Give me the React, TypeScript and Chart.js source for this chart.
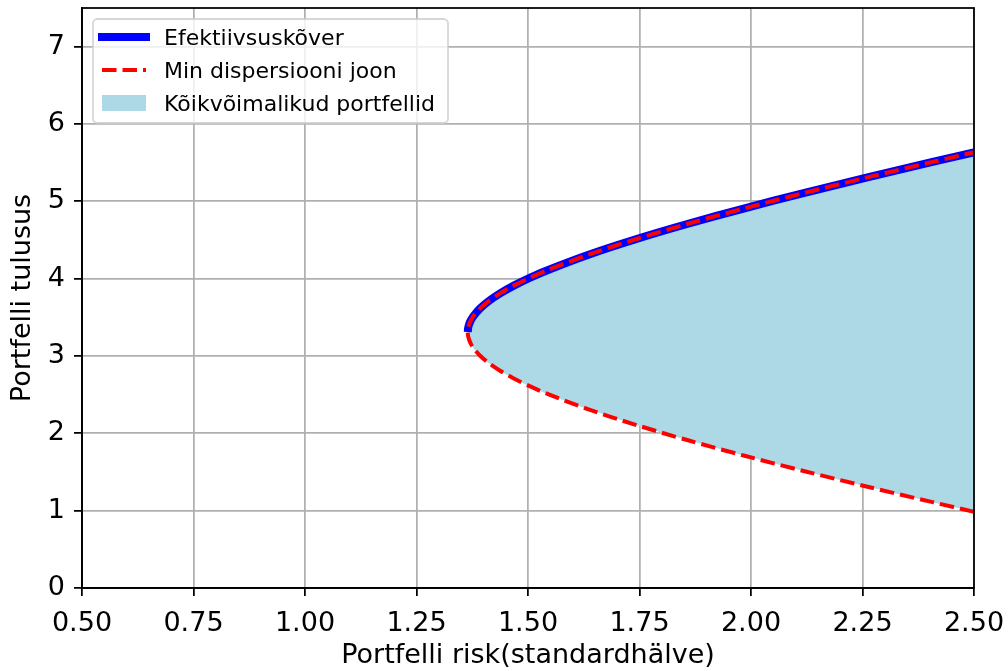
import React, { useEffect, useRef } from "react";
import { Chart, registerables } from "chart.js";

Chart.register(...registerables);

// Tick values
const xTicks = [0.5, 0.75, 1.0, 1.25, 1.5, 1.75, 2.0, 2.25, 2.5];
const yTicks = [0, 1, 2, 3, 4, 5, 6, 7];

// Efficient frontier (upper branch)
const upperRisk = [1.365, 1.3657, 1.368, 1.3717, 1.3768, 1.3915, 1.4118, 1.4374, 1.4682, 1.5037, 1.5437, 1.6357, 1.7415, 1.8588, 1.9856, 2.1201, 2.261, 2.4071, 2.5];
const upperReturn = [3.31, 3.36, 3.41, 3.46, 3.51, 3.61, 3.71, 3.81, 3.91, 4.01, 4.11, 4.31, 4.51, 4.71, 4.91, 5.11, 5.31, 5.51, 5.634];

// Lower branch of the minimum variance line
const lowerRisk = [1.365, 1.3657, 1.368, 1.3717, 1.3768, 1.3915, 1.4118, 1.4374, 1.4682, 1.5037, 1.5437, 1.6357, 1.7415, 1.8588, 1.9856, 2.1201, 2.261, 2.4071, 2.5];
const lowerReturn = [3.31, 3.26, 3.21, 3.16, 3.11, 3.01, 2.91, 2.81, 2.71, 2.61, 2.51, 2.31, 2.11, 1.91, 1.71, 1.51, 1.31, 1.11, 0.986];

const legendLabels = ["Efektiivsuskõver", "Min dispersiooni joon", "Kõikvõimalikud portfellid"];
const xTitle = "Portfelli risk(standardhälve)";
const yTitle = "Portfelli tulusus";

const BLUE = "#0000ff";
const RED = "#ff0000";
const LIGHTBLUE = "#add8e6";
const FONT = '"DejaVu Sans", "Liberation Sans", sans-serif';

const upperPts = upperRisk.map((x, i) => ({ x, y: upperReturn[i] }));
const lowerPts = lowerRisk.map((x, i) => ({ x, y: lowerReturn[i] }));
const fullCurve = [...lowerPts.slice().reverse(), ...upperPts.slice(1)];

const framePlugin = {
  id: "frame",
  afterDatasetsDraw(chart: any) {
    const { ctx, chartArea } = chart;
    ctx.save();
    ctx.strokeStyle = "#000";
    ctx.lineWidth = 1.76;
    ctx.strokeRect(chartArea.left, chartArea.top, chartArea.right - chartArea.left, chartArea.bottom - chartArea.top);
    ctx.restore();
  },
};

const legendPlugin = {
  id: "mplLegend",
  afterDraw(chart: any) {
    const { ctx, chartArea } = chart;
    const bx = chartArea.left + 11;
    const by = chartArea.top + 11;
    const bw = 355;
    const bh = 104;
    const r = 4.4;
    ctx.save();
    ctx.beginPath();
    ctx.moveTo(bx + r, by);
    ctx.lineTo(bx + bw - r, by);
    ctx.arcTo(bx + bw, by, bx + bw, by + r, r);
    ctx.lineTo(bx + bw, by + bh - r);
    ctx.arcTo(bx + bw, by + bh, bx + bw - r, by + bh, r);
    ctx.lineTo(bx + r, by + bh);
    ctx.arcTo(bx, by + bh, bx, by + bh - r, r);
    ctx.lineTo(bx, by + r);
    ctx.arcTo(bx, by, bx + r, by, r);
    ctx.closePath();
    ctx.fillStyle = "rgba(255,255,255,0.8)";
    ctx.fill();
    ctx.strokeStyle = "rgba(204,204,204,0.8)";
    ctx.lineWidth = 1.76;
    ctx.stroke();

    const hx0 = bx + 9;
    const hx1 = hx0 + 44;
    const rows = [by + 18, by + 51, by + 84];

    // blue solid
    ctx.beginPath();
    ctx.strokeStyle = BLUE;
    ctx.lineWidth = 8;
    ctx.lineCap = "square";
    ctx.moveTo(hx0, rows[0]);
    ctx.lineTo(hx1, rows[0]);
    ctx.stroke();

    // red dashed
    ctx.beginPath();
    ctx.strokeStyle = RED;
    ctx.lineWidth = 4;
    ctx.lineCap = "butt";
    ctx.setLineDash([14.5, 6]);
    ctx.moveTo(hx0, rows[1]);
    ctx.lineTo(hx1, rows[1]);
    ctx.stroke();
    ctx.setLineDash([]);

    // patch
    ctx.fillStyle = LIGHTBLUE;
    ctx.fillRect(hx0, rows[2] - 8, 44, 16);

    ctx.fillStyle = "#000";
    ctx.font = `22px ${FONT}`;
    ctx.textBaseline = "alphabetic";
    ctx.textAlign = "left";
    legendLabels.forEach((t, i) => {
      ctx.fillText(t, hx1 + 18, rows[i] + 8);
    });
    ctx.restore();
  },
};

export default function App() {
  const canvasRef = useRef<HTMLCanvasElement | null>(null);

  useEffect(() => {
    const canvas = canvasRef.current;
    if (!canvas) return;
    const chart = new Chart(canvas, {
      type: "scatter",
      data: {
        datasets: [
          {
            label: legendLabels[0],
            data: upperPts,
            showLine: true,
            borderColor: BLUE,
            backgroundColor: BLUE,
            borderWidth: 8,
            pointRadius: 0,
            tension: 0.3,
            fill: false,
            order: 1,
          },
          {
            label: legendLabels[1],
            data: fullCurve,
            showLine: true,
            borderColor: RED,
            backgroundColor: RED,
            borderWidth: 4,
            borderDash: [14.5, 6],
            pointRadius: 0,
            tension: 0.3,
            fill: false,
            order: 0,
          },
          {
            label: legendLabels[2],
            data: fullCurve,
            showLine: true,
            borderColor: "rgba(0,0,0,0)",
            backgroundColor: LIGHTBLUE,
            borderWidth: 0,
            pointRadius: 0,
            tension: 0.3,
            fill: "shape",
            order: 2,
          },
        ],
      },
      options: {
        animation: false,
        responsive: false,
        devicePixelRatio: 1,
        layout: { padding: { left: 0, top: 8, right: 34, bottom: 0 } },
        plugins: {
          legend: { display: false },
          tooltip: { enabled: false },
        },
        scales: {
          x: {
            type: "linear",
            min: 0.5,
            max: 2.5,
            afterFit: (axis: any) => {
              axis.height = 83;
              axis.paddingLeft = 0;
              axis.paddingRight = 0;
            },
            afterBuildTicks: (axis: any) => {
              axis.ticks = xTicks.map((v) => ({ value: v }));
            },
            ticks: {
              color: "#000",
              font: { family: FONT, size: 27 },
              padding: 12,
              maxRotation: 0,
              autoSkip: false,
              callback: (v: any) => Number(v).toFixed(2),
            },
            grid: {
              color: "#b0b0b0",
              lineWidth: 1.76,
              tickColor: "#000",
              tickWidth: 1.76,
              tickLength: 8,
            },
            border: { display: true, color: "#000", width: 1.76 },
            title: {
              display: true,
              text: xTitle,
              color: "#000",
              font: { family: FONT, size: 27, lineHeight: 1.1 },
              padding: 0,
            },
          },
          y: {
            type: "linear",
            min: 0,
            max: 7.5,
            afterFit: (axis: any) => {
              axis.width = 82;
              axis.paddingTop = 0;
              axis.paddingBottom = 0;
            },
            afterBuildTicks: (axis: any) => {
              axis.ticks = yTicks.map((v) => ({ value: v }));
            },
            ticks: {
              color: "#000",
              font: { family: FONT, size: 27 },
              padding: 9,
              autoSkip: false,
              callback: (v: any) => String(v),
            },
            grid: {
              color: "#b0b0b0",
              lineWidth: 1.76,
              tickColor: "#000",
              tickWidth: 1.76,
              tickLength: 8,
            },
            border: { display: true, color: "#000", width: 1.76 },
            title: {
              display: true,
              text: yTitle,
              color: "#000",
              font: { family: FONT, size: 27, lineHeight: 1.1 },
              padding: { top: 8, bottom: 0 },
            },
          },
        },
      },
      plugins: [framePlugin, legendPlugin],
    });
    return () => chart.destroy();
  }, []);

  return (
    <div style={{ position: "absolute", left: 0, top: 0, width: 1008, height: 671, background: "#fff" }}>
      <canvas ref={canvasRef} width={1008} height={671} style={{ display: "block" }} />
    </div>
  );
}
